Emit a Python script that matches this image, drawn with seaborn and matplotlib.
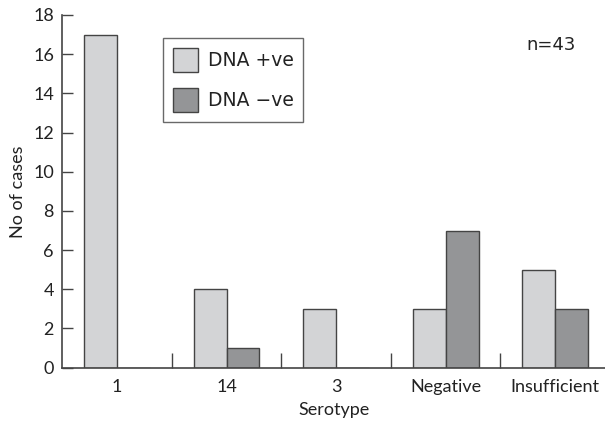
"""
Bar chart of serotype results split by DNA status.
"""

# === Imports ===

import numpy as np
import pandas as pd
import seaborn as sns
from matplotlib import pyplot as plt
from matplotlib.ticker import FixedLocator


# === Parameters ===

serotypes = ["1", "14", "3", "Negative", "Insufficient"]
dna_pos = [17, 4, 3, 3, 5]
dna_neg = [0, 1, 0, 7, 3]
statuses = ["DNA +ve", "DNA \u2212ve"]
colours = ["#d3d4d6", "#939598"]
edge = "#444444"
plotfile = "out.png"


# === Functions ===

def build_data():
    """
    Put the counts into one long DataFrame.
    Returns: DataFrame with columns serotype, status, cases.
    """
    data = pd.DataFrame({
        "serotype": serotypes * 2,
        "status": [statuses[0]] * len(serotypes) + [statuses[1]] * len(serotypes),
        "cases": dna_pos + dna_neg,
    })
    return data


def make_plot(data):
    """
    Draw the grouped bar chart and save it.
    """
    sns.set_style("ticks")
    plt.rcParams["font.family"] = ["Lato", "DejaVu Sans"]
    plt.rcParams["font.size"] = 13
    fig = plt.figure(figsize=(6.05, 4.24), dpi=100)
    ax = fig.add_axes([0.103, 0.1328, 0.897, 0.832])
    sns.barplot(
        data=data,
        x="serotype",
        y="cases",
        hue="status",
        order=serotypes,
        hue_order=statuses,
        palette=colours,
        width=0.6,
        edgecolor=edge,
        linewidth=1,
        ax=ax,
    )
    ax.set_xlim(-0.5, 4.454)
    ax.set_ylim(0, 18)
    ax.set_yticks(np.arange(0, 19, 2))
    ax.xaxis.set_minor_locator(FixedLocator([0.5, 1.5, 2.5, 3.5]))
    ax.tick_params(axis="x", which="major", length=0, pad=8, labelsize=13, colors="#222222")
    ax.tick_params(axis="x", which="minor", direction="in", length=11, width=1, color=edge)
    ax.tick_params(axis="y", direction="in", length=8, width=1, color=edge, pad=6,
                   labelsize=13, labelcolor="#222222")
    for side in ["top", "right"]:
        ax.spines[side].set_visible(False)
    for side in ["left", "bottom"]:
        ax.spines[side].set_color(edge)
        ax.spines[side].set_linewidth(1.2)
    ax.set_xlabel("Serotype", fontsize=13, color="#222222", labelpad=5)
    ax.set_ylabel("No of cases", fontsize=13, color="#222222", labelpad=5)
    legend = ax.legend(
        loc="upper left",
        bbox_to_anchor=(0.269, 0.911),
        bbox_transform=fig.transFigure,
        borderaxespad=0,
        borderpad=0.53,
        handlelength=1.33,
        handleheight=1.59,
        handletextpad=0.53,
        labelspacing=0.885,
        fancybox=False,
        frameon=True,
        prop={"family": "DejaVu Sans", "size": 13.5},
    )
    legend.get_frame().set_edgecolor(edge)
    legend.get_frame().set_linewidth(1)
    for text in legend.get_texts():
        text.set_color("#222222")
    fig.text(551 / 605, 1 - 45 / 424, "n=43", ha="center", va="center",
             family="DejaVu Sans", fontsize=13, color="#222222")
    plt.savefig(plotfile, dpi=100)


# === Main ===

def main():
    data = build_data()
    make_plot(data)
main()
